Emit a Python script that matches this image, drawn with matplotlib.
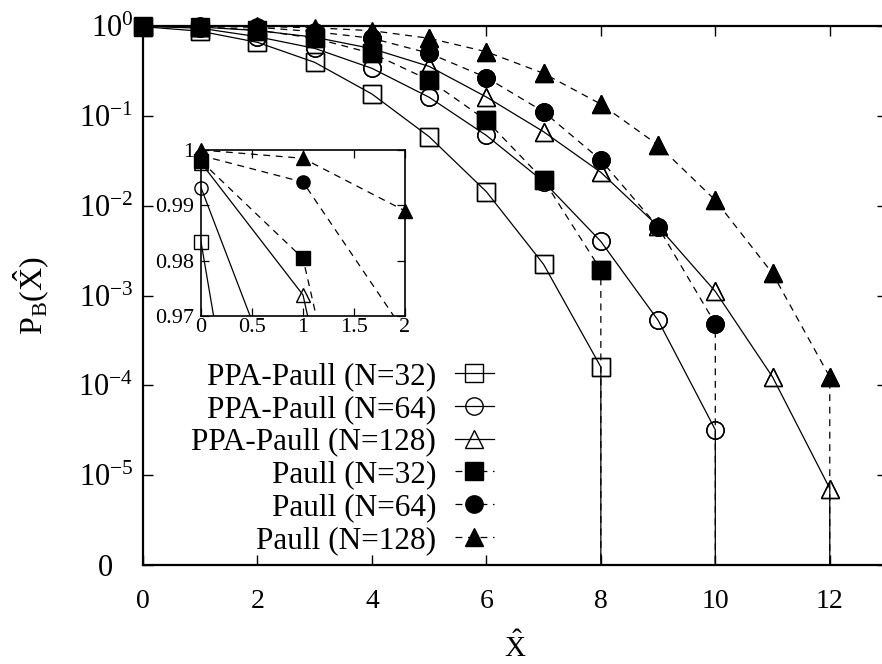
import numpy as np
import matplotlib
matplotlib.use("Agg")
import matplotlib.pyplot as plt
from matplotlib.transforms import ScaledTranslation

plt.rcParams['font.family'] = ['Liberation Serif', 'DejaVu Serif']
plt.rcParams['mathtext.fontset'] = 'custom'
plt.rcParams['mathtext.rm'] = 'Liberation Serif'
plt.rcParams['mathtext.it'] = 'Liberation Serif:italic'
plt.rcParams['mathtext.default'] = 'regular'

# ---- data (0 = probability zero, drawn at the "0" level) ----
x_ppa32 = [0, 1, 2, 3, 4, 5, 6, 7, 8, 8]
y_ppa32 = [0.9834, 0.875, 0.658, 0.394, 0.175, 0.0586, 0.0143, 0.00222, 1.6e-4, 0]

x_ppa64 = [0, 1, 2, 3, 4, 5, 6, 7, 8, 9, 10, 10]
y_ppa64 = [0.9932, 0.945, 0.76, 0.564, 0.338, 0.161, 0.0605, 0.0185, 0.0040, 5.3e-4, 3.2e-5, 0]

x_ppa128 = [0, 1, 2, 3, 4, 5, 6, 7, 8, 9, 10, 11, 12, 12]
y_ppa128 = [0.9977, 0.9738, 0.89, 0.75, 0.56, 0.355, 0.162, 0.0665, 0.0235, 0.0059, 0.00111, 1.24e-4, 7.1e-6, 0]

x_p32 = [0, 1, 2, 3, 4, 5, 6, 7, 8, 8]
y_p32 = [0.998, 0.9804, 0.90, 0.73, 0.497, 0.25, 0.089, 0.0193, 0.00192, 0]

x_p64 = [0, 1, 2, 3, 4, 5, 6, 7, 8, 9, 10, 10]
y_p64 = [0.999, 0.9942, 0.967, 0.865, 0.73, 0.497, 0.267, 0.111, 0.0322, 0.0058, 4.85e-4, 0]

x_p128 = [0, 1, 2, 3, 4, 5, 6, 7, 8, 9, 10, 11, 12, 12]
y_p128 = [1.0, 0.9985, 0.989, 0.955, 0.887, 0.73, 0.517, 0.297, 0.135, 0.0473, 0.0115, 0.00176, 1.24e-4, 0]

labels = ['PPA-Paull (N=32)', 'PPA-Paull (N=64)', 'PPA-Paull (N=128)',
          'Paull (N=32)', 'Paull (N=64)', 'Paull (N=128)']

ytick_vals = [1e-6, 1e-5, 1e-4, 1e-3, 1e-2, 1e-1, 1]
ytick_labels = ['0', r'$10^{-5}$', r'$10^{-4}$', r'$10^{-3}$', r'$10^{-2}$', r'$10^{-1}$', r'$10^{0}$']
xtick_vals = [0, 2, 4, 6, 8, 10, 12]

inset_xticks = [0, 0.5, 1, 1.5, 2]
inset_xlabels = ['0', '0.5', '1', '1.5', '2']
inset_yticks = [0.97, 0.98, 0.99, 1.0]
inset_ylabels = ['0.97', '0.98', '0.99', '1']

series = [
    (x_ppa32, y_ppa32, 's', 'none', '-'),
    (x_ppa64, y_ppa64, 'o', 'none', '-'),
    (x_ppa128, y_ppa128, '^', 'none', '-'),
    (x_p32, y_p32, 's', 'black', '--'),
    (x_p64, y_p64, 'o', 'black', '--'),
    (x_p128, y_p128, '^', 'black', '--'),
]

dash = (0, (5.5, 4.5))
fig = plt.figure(figsize=(8.82, 6.64), dpi=100)
ax = fig.add_axes([143/882, 1-565/664, (887-143)/882, (565-26)/664])
ax.set_yscale('log', nonpositive='clip')

ms_main = 12.5
for (xs, ys, mk, fc, ls), lab in zip(series, labels):
    xs = np.asarray(xs, float); ys = np.asarray(ys, float)
    lstyle = '-' if ls == '-' else dash
    ax.plot(xs, ys, color='black', lw=0.9, linestyle=lstyle, marker=mk, ms=ms_main,
            mfc=fc, mec='black', mew=1.0, label=lab, clip_on=True)
    pos = ys > 0
    ax.plot(xs[pos], ys[pos], linestyle='none', marker=mk, ms=ms_main,
            mfc=fc, mec='black', mew=1.0, clip_on=False, zorder=3)

ax.set_xlim(0, 13)
ax.set_ylim(1e-6, 1)
ax.set_yticks(ytick_vals)
ax.set_yticklabels(ytick_labels)
ax.yaxis.set_minor_locator(matplotlib.ticker.NullLocator())
ax.set_xticks(xtick_vals)
ax.tick_params(axis='both', which='major', direction='in', length=7, width=1.0,
               top=True, right=True)
ax.tick_params(axis='x', pad=17, labelsize=20)
ax.tick_params(axis='y', pad=7, labelsize=22)
for s in ax.spines.values():
    s.set_linewidth(1.6)
# the "0" label sits a little left of the power labels
zero_lab = ax.get_yticklabels()[0]
zero_lab.set_transform(zero_lab.get_transform() + ScaledTranslation(-0.2, 0, fig.dpi_scale_trans))

ax.set_xlabel(r'$\hat{X}$', fontsize=21, labelpad=13)
ax.set_ylabel(r'P$_{B}$($\hat{X}$)', fontsize=23, labelpad=19)

leg = ax.legend(loc='lower right', bbox_to_anchor=(0.497, -0.016), frameon=False,
                markerfirst=False, fontsize=22.5, handlelength=1.25, handletextpad=0.6,
                labelspacing=0.12, borderaxespad=0.2)

# ---- inset ----
axi = fig.add_axes([201/882, 1-316/664, 204/882, 166/664])
ms_in = 9.5
for (xs, ys, mk, fc, ls) in series:
    xs = np.asarray(xs, float); ys = np.asarray(ys, float)
    lstyle = '-' if ls == '-' else dash
    axi.plot(xs, ys, color='black', lw=0.9, linestyle=lstyle, clip_on=True)
    sel = (xs <= 2) & (ys >= 0.97)
    axi.plot(xs[sel], ys[sel], linestyle='none', marker=mk, ms=ms_in,
             mfc=fc, mec='black', mew=1.0, clip_on=False, zorder=3)
axi.set_xlim(0, 2)
axi.set_ylim(0.97, 1.0)
axi.set_xticks(inset_xticks)
axi.set_xticklabels(inset_xlabels)
axi.set_yticks(inset_yticks)
axi.set_yticklabels(inset_ylabels)
axi.tick_params(direction='in', length=6, width=0.9, top=True, right=True, labelsize=16)
axi.tick_params(axis='x', pad=1.5)
axi.tick_params(axis='y', pad=5)
for s in axi.spines.values():
    s.set_linewidth(1.2)

fig.savefig('out.png', dpi=100)
